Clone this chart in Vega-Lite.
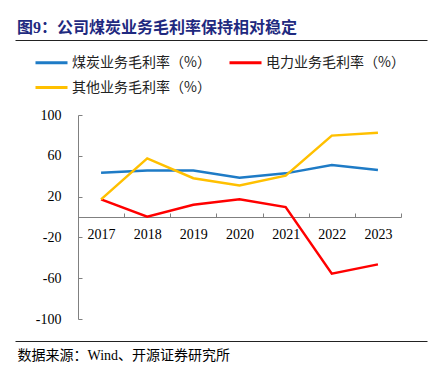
{
  "$schema": "https://vega.github.io/schema/vega-lite/v6.json",
  "autosize": "none",
  "padding": {"left": 15, "top": 39, "right": 20, "bottom": 39},
  "width": 412,
  "height": 303,
  "background": "white",
  "view": {"stroke": null},
  "title": {
    "text": "图9：公司煤炭业务毛利率保持相对稳定",
    "anchor": "start",
    "font": "Liberation Serif, Noto Sans CJK SC",
    "fontSize": 16,
    "fontWeight": "bold",
    "color": "#1F2A80",
    "baseline": "alphabetic",
    "offset": -7,
    "dx": 2,
    "dy": 3
  },
  "data": {
    "values": [
      {"year": "2017", "series": "煤炭业务毛利率（%）", "value": 43.5},
      {"year": "2018", "series": "煤炭业务毛利率（%）", "value": 45.5},
      {"year": "2019", "series": "煤炭业务毛利率（%）", "value": 45.5},
      {"year": "2020", "series": "煤炭业务毛利率（%）", "value": 38.6},
      {"year": "2021", "series": "煤炭业务毛利率（%）", "value": 42.8},
      {"year": "2022", "series": "煤炭业务毛利率（%）", "value": 51.0},
      {"year": "2023", "series": "煤炭业务毛利率（%）", "value": 46.0},
      {"year": "2017", "series": "电力业务毛利率（%）", "value": 17.3},
      {"year": "2018", "series": "电力业务毛利率（%）", "value": 0.4},
      {"year": "2019", "series": "电力业务毛利率（%）", "value": 12.0},
      {"year": "2020", "series": "电力业务毛利率（%）", "value": 17.3},
      {"year": "2021", "series": "电力业务毛利率（%）", "value": 9.8},
      {"year": "2022", "series": "电力业务毛利率（%）", "value": -55.5},
      {"year": "2023", "series": "电力业务毛利率（%）", "value": -46.4},
      {"year": "2017", "series": "其他业务毛利率（%）", "value": 17.3},
      {"year": "2018", "series": "其他业务毛利率（%）", "value": 57.5},
      {"year": "2019", "series": "其他业务毛利率（%）", "value": 38.0},
      {"year": "2020", "series": "其他业务毛利率（%）", "value": 31.0},
      {"year": "2021", "series": "其他业务毛利率（%）", "value": 40.5},
      {"year": "2022", "series": "其他业务毛利率（%）", "value": 79.8},
      {"year": "2023", "series": "其他业务毛利率（%）", "value": 82.7}
    ]
  },
  "mark": {"type": "line", "strokeWidth": 2.5},
  "encoding": {
    "x": {
      "field": "year",
      "type": "ordinal",
      "bandPosition": 0.5,
      "scale": {"type": "band", "paddingInner": 0, "paddingOuter": 0.9643, "align": 0.7079},
      "axis": {
        "title": "数据来源：Wind、开源证券研究所",
        "titleFont": "Liberation Serif, Noto Sans CJK SC",
        "titleFontSize": 14,
        "titleFontWeight": "normal",
        "titleColor": "#000000",
        "titleAnchor": "start",
        "titleAlign": "left",
        "titleBaseline": "alphabetic",
        "titleAngle": 0,
        "titleX": 2,
        "titleY": 142,
        "labelAngle": 0,
        "tickBand": "extent",
        "offset": -125,
        "domainColor": "#808080",
        "domainDash": [0, 63, 323, 26],
        "tickColor": "#808080",
        "tickSize": -4,
        "labelFont": "Liberation Serif",
        "labelFontSize": 14,
        "labelColor": "#000000",
        "labelPadding": 14
      }
    },
    "y": {
      "field": "value",
      "type": "quantitative",
      "scale": {"domain": [-122.5, 174.5], "nice": false, "zero": false},
      "axis": {
        "title": null,
        "offset": -63,
        "values": [-122, -100, -60, -20, 20, 60, 100, 174],
        "labelExpr": "datum.value > 150 || datum.value < -110 ? '' : '' + datum.value",
        "grid": true,
        "gridColor": "#222222",
        "gridWidth": 1,
        "gridOpacity": {"condition": {"test": "datum.value > 150 || datum.value < -110", "value": 1}, "value": 0},
        "tickOpacity": {"condition": {"test": "datum.value > 150 || datum.value < -110", "value": 0}, "value": 1},
        "tickSize": -4,
        "domainColor": "#808080",
        "domainDash": [0, 23, 204, 76],
        "tickColor": "#808080",
        "labelFont": "Liberation Serif",
        "labelFontSize": 14,
        "labelColor": "#000000",
        "labelPadding": 21
      }
    },
    "color": {
      "field": "series",
      "type": "nominal",
      "sort": ["煤炭业务毛利率（%）", "电力业务毛利率（%）", "其他业务毛利率（%）"],
      "scale": {
        "domain": ["煤炭业务毛利率（%）", "电力业务毛利率（%）", "其他业务毛利率（%）"],
        "range": ["#1E7BC6", "#FF0000", "#FFC000"]
      },
      "legend": {
        "title": null,
        "orient": "none",
        "legendX": 19,
        "legendY": 6,
        "direction": "horizontal",
        "columns": 2,
        "symbolType": "stroke",
        "symbolSize": 1024,
        "symbolStrokeWidth": 3,
        "labelOffset": 3,
        "labelFont": "Noto Sans CJK SC",
        "labelFontSize": 14,
        "labelColor": "#222222",
        "labelLimit": 300,
        "columnPadding": 12,
        "rowPadding": -2
      }
    }
  }
}
